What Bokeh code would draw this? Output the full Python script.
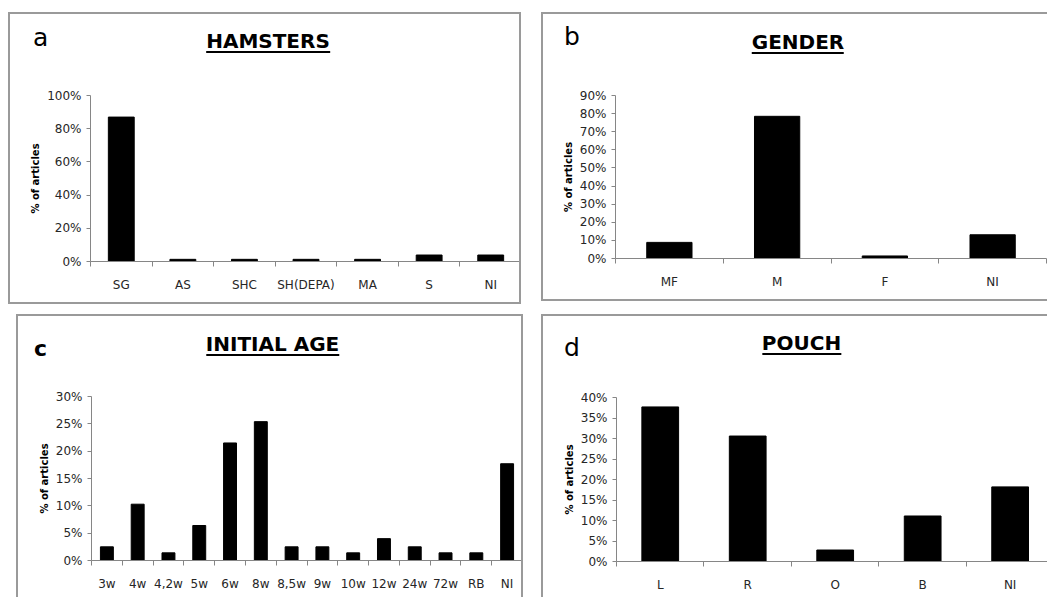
from bokeh.plotting import figure
from bokeh.layouts import column, row
from bokeh.models import (Range1d, FixedTicker, CustomJSTickFormatter, PrintfTickFormatter,
                          ColumnDataSource, Div)
from bokeh.embed import file_html
from bokeh.resources import INLINE

# ---------------- data ----------------
hamster_cats = ["SG", "AS", "SHC", "SH(DEPA)", "MA", "S", "NI"]
hamster_vals = [87.0, 1.3, 1.3, 1.3, 1.3, 3.9, 3.9]

gender_cats = ["MF", "M", "F", "NI"]
gender_vals = [8.9, 78.5, 1.4, 13.1]

age_cats = ["3w", "4w", "4,2w", "5w", "6w", "8w", "8,5w", "9w", "10w", "12w", "24w", "72w", "RB", "NI"]
age_vals = [2.5, 10.3, 1.4, 6.4, 21.5, 25.4, 2.5, 2.5, 1.4, 4.0, 2.5, 1.4, 1.4, 17.7]

pouch_cats = ["L", "R", "O", "B", "NI"]
pouch_vals = [37.7, 30.6, 2.8, 11.1, 18.2]

y_label = "% of articles"

FONT = "DejaVu Sans"
GRAY = "#868686"
TXT = "#262626"
BW = 2
BORDER = "%dpx solid #9a9a9a" % BW
HEAD = 60          # height of the header strip (letter + title)
ASC = 0.846        # baseline offset (em) for DejaVu Sans with line-height 1


def make_panel(letter, title, cats, vals, ymax, ystep, box, frame, letter_pos, title_pos,
               borders, margin, xmax=None, letter_bold=False, lfs=25):
    x0, y0, w, h = box
    fl, fr, ft, fb = frame
    n = len(cats)
    xend = xmax if xmax else n
    bl = BW if "left" in borders else 0
    br = BW if "right" in borders else 0
    bt = BW if "top" in borders else 0
    bb = BW if "bottom" in borders else 0

    # ---------- header (letter + underlined title) ----------
    ox, oy = x0 + bl, y0 + bt
    tfs = 20
    html = (
        '<div style="position:relative;width:%dpx;height:%dpx;font-family:\'%s\';color:black;">'
        '<span style="position:absolute;left:%.1fpx;top:%.1fpx;font-size:%dpx;line-height:1;font-weight:%s;">%s</span>'
        '<span style="position:absolute;left:%.1fpx;top:%.1fpx;transform:translateX(-50%%);'
        'font-size:%dpx;line-height:1;font-weight:bold;white-space:nowrap;display:inline-block;'
        'border-bottom:2px solid black;padding-bottom:0px;">%s</span>'
        '</div>'
    ) % (w - bl - br, HEAD - bt, FONT,
         letter_pos[0] - ox, letter_pos[1] - ASC * lfs - oy, lfs,
         "bold" if letter_bold else "normal", letter,
         title_pos[0] - ox, title_pos[1] - ASC * tfs - oy, tfs, title)
    hst = {"box-sizing": "border-box", "padding": "0px", "overflow": "visible"}
    for side in borders:
        if side != "bottom":
            hst["border-" + side] = BORDER
    head = Div(text=html, width=w, height=HEAD, margin=(0, 0, 0, 0), styles=hst)

    # ---------- chart ----------
    fy0 = y0 + HEAD
    fh = h - HEAD
    cx0, cw = x0 + bl, w - bl - br
    cy0, ch = fy0, fh - bb
    p = figure(width=w, height=fh, x_range=Range1d(0, xend),
               y_range=Range1d(0, ymax), output_backend="svg", toolbar_location=None,
               min_border_left=fl - cx0, min_border_right=cx0 + cw - fr,
               min_border_top=ft - cy0, min_border_bottom=cy0 + ch - fb)
    p.outline_line_color = None
    p.xgrid.visible = False
    p.ygrid.visible = False
    p.background_fill_color = "white"
    p.border_fill_color = "white"

    src = ColumnDataSource(dict(x=[i + 0.5 for i in range(n)], top=vals, cat=cats))
    p.vbar(x="x", top="top", width=0.42, source=src, fill_color="black", line_color="black")

    # x axis: labels at category centres, tick marks at category boundaries
    xa = p.xaxis[0]
    xa.ticker = FixedTicker(ticks=[i + 0.5 for i in range(n)], minor_ticks=list(range(n + 1)))
    xa.formatter = CustomJSTickFormatter(args=dict(cats=cats),
                                         code="const i = Math.floor(tick); return (i >= 0 && i < cats.length) ? cats[i] : '';")
    xa.major_tick_out = 0
    xa.major_tick_in = 0
    xa.minor_tick_out = 5
    xa.minor_tick_in = 0
    xa.axis_line_color = GRAY
    xa.minor_tick_line_color = GRAY
    xa.major_tick_line_color = None
    xa.major_label_standoff = 11
    xa.major_label_text_font = FONT
    xa.major_label_text_font_size = "12px"
    xa.major_label_text_color = TXT

    ya = p.yaxis[0]
    ya.ticker = FixedTicker(ticks=list(range(0, ymax + 1, ystep)))
    ya.formatter = PrintfTickFormatter(format="%d%%")
    ya.major_tick_out = 4
    ya.major_tick_in = 0
    ya.minor_tick_line_color = None
    ya.axis_line_color = GRAY
    ya.major_tick_line_color = GRAY
    ya.major_label_standoff = 5
    ya.major_label_text_font = FONT
    ya.major_label_text_font_size = "12px"
    ya.major_label_text_color = TXT
    ya.axis_label = y_label
    ya.axis_label_text_font = FONT
    ya.axis_label_text_font_size = "10px"
    ya.axis_label_text_font_style = "bold"
    ya.axis_label_text_color = "black"
    ya.axis_label_standoff = 3

    fst = {"box-sizing": "border-box"}
    for side in borders:
        if side != "top":
            fst["border-" + side] = BORDER
    p.styles = fst
    p.margin = (0, 0, 0, 0)
    return column(head, p, margin=margin, spacing=0)


pa = make_panel("a", "HAMSTERS", hamster_cats, hamster_vals, 100, 20,
                box=(8, 12, 513, 292), frame=(90, 517, 95, 259),
                letter_pos=(33, 46), title_pos=(268, 47.5),
                borders=["top", "left", "right", "bottom"], margin=(12, 0, 0, 8))

pb = make_panel("b", "GENDER", gender_cats, gender_vals, 90, 10,
                box=(541, 12, 506, 289), frame=(615, 1044, 95, 256),
                letter_pos=(564, 45), title_pos=(798, 48.5),
                borders=["top", "left", "bottom"], margin=(12, 0, 0, 20))

pc = make_panel("c", "INITIAL AGE", age_cats, age_vals, 30, 5,
                box=(16, 314, 507, 283), frame=(91, 518, 396, 560),
                letter_pos=(34, 357), title_pos=(272.5, 351),
                borders=["top", "left", "right"], margin=(10, 0, 0, 16), letter_bold=True, lfs=22)

pd = make_panel("d", "POUCH", pouch_cats, pouch_vals, 40, 5,
                box=(541, 314, 506, 283), frame=(616, 1047, 397, 561),
                letter_pos=(564, 356.5), title_pos=(801.5, 350),
                borders=["top", "left"], margin=(10, 0, 0, 18), xmax=4.95)

layout = column(row(pa, pb), row(pc, pd))

open("out.html", "w").write(file_html(layout, INLINE))
